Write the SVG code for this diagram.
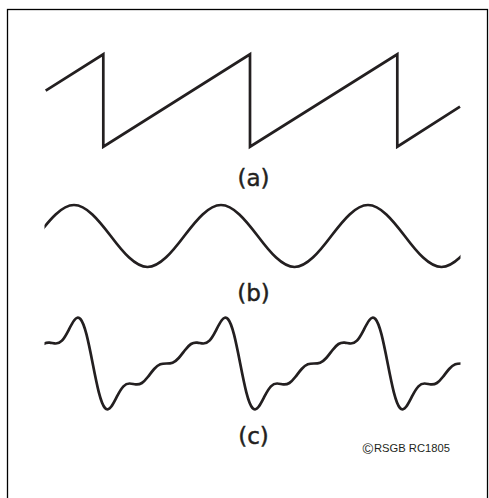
<svg xmlns="http://www.w3.org/2000/svg" width="489" height="498" viewBox="0 0 489 498">
<style>
.wave{fill:none;stroke:#231f20;stroke-width:2.7;stroke-linejoin:miter;stroke-linecap:butt}
.lbl{font-family:"DejaVu Sans",sans-serif;font-size:23px;fill:#231f20;stroke:#231f20;stroke-width:0.45;text-anchor:middle}
.cr{font-family:"Liberation Sans",Arial,sans-serif;fill:#231f20}
</style>
<defs>
<clipPath id="clipW"><rect x="44.5" y="0" width="416" height="498"/></clipPath>
</defs>
<rect x="7.5" y="9.5" width="480" height="500" fill="#fff" stroke="#000" stroke-width="1.3"/>
<g id="wave-a">
<path class="wave" d="M45.7,90.7 L103.3,54.3 L103.3,146.7 L250,54.3 L250,146.7 L397.3,54.3 L397.3,146.7 L460,106.7"/>
<text class="lbl" x="253.5" y="185.5">(a)</text>
</g>
<g id="wave-b">
<path class="wave" clip-path="url(#clipW)" d="M37.25,236 C49.5,219.77 61.75,205 74,205 C86.25,205 98.5,219.77 110.75,236 C123,252.23 135.25,267 147.5,267 C159.75,267 172,252.23 184.25,236 C196.5,219.77 208.75,205 221,205 C233.25,205 245.5,219.77 257.75,236 C270,252.23 282.25,267 294.5,267 C306.75,267 319,252.23 331.25,236 C343.5,219.77 355.75,205 368,205 C380.25,205 392.5,219.77 404.75,236 C417,252.23 429.25,267 441.5,267 C453.75,267 466,252.23 478.25,236"/>
<text class="lbl" x="253.5" y="300.5">(b)</text>
</g>
<g id="wave-c">
<path class="wave" clip-path="url(#clipW)" d="M43.53,344.01 c2.049,-1.31 4.097,-1.63 6.146,-1.41 c2.049,0.22 4.097,0.9 6.146,0.9 c2.049,0 4.097,-0.78 6.146,-2.91 c2.049,-2.13 4.097,-5.64 6.146,-9.57 c2.049,-3.93 4.097,-8.18 6.146,-10.8 c2.049,-2.62 4.097,-3.47 6.146,-1.2 c2.049,2.27 4.097,7.69 6.146,15.65 c2.049,7.96 4.097,18.36 6.146,28.83
c2.049,10.47 4.097,20.87 6.146,28.83 c2.049,7.96 4.097,13.38 6.146,15.65 c2.049,2.27 4.097,1.42 6.146,-1.2 c2.049,-2.62 4.097,-6.87 6.146,-10.8 c2.049,-3.93 4.097,-7.44 6.146,-9.57 c2.049,-2.13 4.097,-2.91 6.146,-2.91 c2.049,0 4.097,0.68 6.146,0.9 c2.049,0.22 4.097,-0.1 6.146,-1.41 c2.049,-1.31 4.097,-3.59 6.146,-6.21 c2.049,-2.62 4.097,-5.5 6.146,-7.77 c2.049,-2.27 4.097,-3.87 6.146,-4.67 c2.049,-0.8 4.097,-0.84 6.146,-0.84 c2.049,0 4.097,-0.04 6.146,-0.84 c2.049,-0.8 4.097,-2.4 6.146,-4.67 c2.049,-2.27 4.097,-5.15 6.146,-7.77 c2.049,-2.62 4.097,-4.9 6.146,-6.21 c2.049,-1.31 4.097,-1.63 6.146,-1.41 c2.049,0.22 4.097,0.9 6.146,0.9 c2.049,0 4.097,-0.78 6.146,-2.91 c2.049,-2.13 4.097,-5.64 6.146,-9.57 c2.049,-3.93 4.097,-8.18 6.146,-10.8 c2.049,-2.62 4.097,-3.47 6.146,-1.2 c2.049,2.27 4.097,7.69 6.146,15.65 c2.049,7.96 4.097,18.36 6.146,28.83
c2.049,10.47 4.097,20.87 6.146,28.83 c2.049,7.96 4.097,13.38 6.146,15.65 c2.049,2.27 4.097,1.42 6.146,-1.2 c2.049,-2.62 4.097,-6.87 6.146,-10.8 c2.049,-3.93 4.097,-7.44 6.146,-9.57 c2.049,-2.13 4.097,-2.91 6.146,-2.91 c2.049,0 4.097,0.68 6.146,0.9 c2.049,0.22 4.097,-0.1 6.146,-1.41 c2.049,-1.31 4.097,-3.59 6.146,-6.21 c2.049,-2.62 4.097,-5.5 6.146,-7.77 c2.049,-2.27 4.097,-3.87 6.146,-4.67 c2.049,-0.8 4.097,-0.84 6.146,-0.84 c2.049,0 4.097,-0.04 6.146,-0.84 c2.049,-0.8 4.097,-2.4 6.146,-4.67 c2.049,-2.27 4.097,-5.15 6.146,-7.77 c2.049,-2.62 4.097,-4.9 6.146,-6.21 c2.049,-1.31 4.097,-1.63 6.146,-1.41 c2.049,0.22 4.097,0.9 6.146,0.9 c2.049,0 4.097,-0.78 6.146,-2.91 c2.049,-2.13 4.097,-5.64 6.146,-9.57 c2.049,-3.93 4.097,-8.18 6.146,-10.8 c2.049,-2.62 4.097,-3.47 6.146,-1.2 c2.049,2.27 4.097,7.69 6.146,15.65 c2.049,7.96 4.097,18.36 6.146,28.83
c2.049,10.47 4.097,20.87 6.146,28.83 c2.049,7.96 4.097,13.38 6.146,15.65 c2.049,2.27 4.097,1.42 6.146,-1.2 c2.049,-2.62 4.097,-6.87 6.146,-10.8 c2.049,-3.93 4.097,-7.44 6.146,-9.57 c2.049,-2.13 4.097,-2.91 6.146,-2.91 c2.049,0 4.097,0.68 6.146,0.9 c2.049,0.22 4.097,-0.1 6.146,-1.41 c2.049,-1.31 4.097,-3.59 6.146,-6.21 c2.049,-2.62 4.097,-5.5 6.146,-7.77 c2.049,-2.27 4.097,-3.87 6.146,-4.67 c2.049,-0.8 4.097,-0.84 6.146,-0.84"/>
<text class="lbl" x="253.5" y="443.5">(c)</text>
</g>
<g id="copyright">
<text class="cr" x="362.5" y="453.8" font-size="14.5">©</text>
<text class="cr" x="374" y="452.3" font-size="11.2">RSGB RC1805</text>
</g>
</svg>
